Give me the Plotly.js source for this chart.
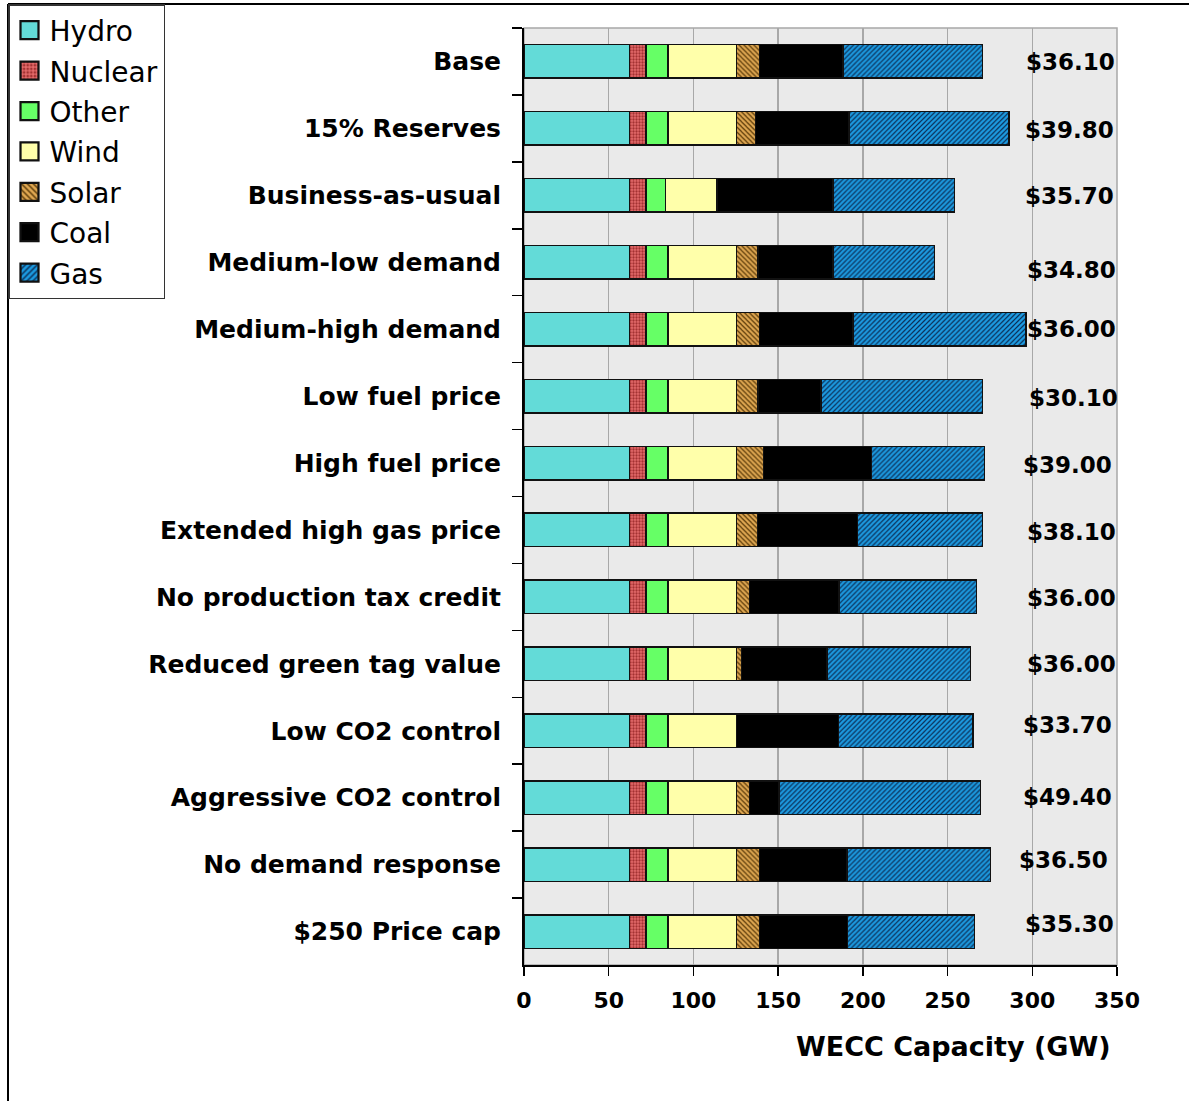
<!DOCTYPE html>
<html><head><meta charset="utf-8">
<script src="https://cdn.plot.ly/plotly-3.0.1.min.js"></script>
<style>
html,body{margin:0;padding:0;background:#fff}
#chart{width:1189px;height:1101px}
.legend .legendpoints path{transform:translate(20px,0px) scale(1.5);}
</style>
</head><body><div id="chart"></div>
<script>
const categories = ['Base','15% Reserves','Business-as-usual','Medium-low demand','Medium-high demand','Low fuel price','High fuel price','Extended high gas price','No production tax credit','Reduced green tag value','Low CO2 control','Aggressive CO2 control','No demand response','$250 Price cap'];
const hydro   = [62.3,62.3,62.3,62.3,62.3,62.3,62.3,62.3,62.3,62.3,62.3,62.3,62.3,62.3];
const nuclear = [9.6,9.6,9.6,9.6,9.6,9.6,9.6,9.6,9.6,9.6,9.6,9.6,9.6,9.6];
const other   = [13.0,13.0,11.6,13.0,13.0,13.0,13.0,13.0,13.0,13.0,13.0,13.0,13.0,13.0];
const wind    = [40.4,40.4,30.5,40.4,40.4,40.4,40.4,40.4,40.4,40.4,40.4,40.4,40.4,40.4];
const solar   = [13.7,11.4,0,12.7,13.7,12.7,16.1,12.5,7.8,3.1,0,7.7,13.7,13.7];
const coal    = [49.2,55.0,68.3,44.5,55.3,37.4,63.6,58.9,52.7,50.4,60.4,17.4,51.6,51.8];
const gas     = [82.5,94.5,71.8,59.8,102.1,95.3,66.8,74.0,81.3,84.8,79.3,119.1,84.8,75.1];
const prices  = ['$36.10','$39.80','$35.70','$34.80','$36.00','$30.10','$39.00','$38.10','$36.00','$36.00','$33.70','$49.40','$36.50','$35.30'];
const tickVals = [0,50,100,150,200,250,300,350];

// small pixel nudges of the price labels, as placed in the original figure
const labelShiftX = [0,-1,-1,1,1,3,-3,1,1,1,-3,-3,-7,-1];
const labelShiftY = [-1,-2,-1,-8,0,-2,-2,-2,-1,0,6,1,5,8];

const FONT = 'DejaVu Sans, Arial, sans-serif';
const series = [
  {name:'Hydro',   values:hydro,   color:'#63DBD8'},
  {name:'Nuclear', values:nuclear, color:'#E46A6A', pattern:{shape:'.', fgcolor:'#A33232', size:3, solidity:0.45}},
  {name:'Other',   values:other,   color:'#66FF66'},
  {name:'Wind',    values:wind,    color:'#FFFFAA'},
  {name:'Solar',   values:solar,   color:'#E0A852', pattern:{shape:'\\', fgcolor:'#5A3A08', size:3.5, solidity:0.35}},
  {name:'Coal',    values:coal,    color:'#000000'},
  {name:'Gas',     values:gas,     color:'#1C9CE2', pattern:{shape:'/', fgcolor:'#0B2D55', size:3.5, solidity:0.35}}
];
const traces = series.map(s => {
  const marker = {color:s.color, line:{color:'#111111', width:1.5}};
  if (s.pattern) marker.pattern = Object.assign({fillmode:'replace', bgcolor:s.color}, s.pattern);
  return {type:'bar', orientation:'h', y:categories, x:s.values, name:s.name,
          legendgroup:s.name, marker:marker, hoverinfo:'skip'};
});

const L = 524, R = 1117, T = 28, B = 965, W = 1189, H = 1101;
const pw = R - L, ph = B - T;
const px = x => (x - L) / pw;
const py = y => (B - y) / ph;

const annotations = categories.map((c, i) => ({
  xref:'x', yref:'y', x:322.5, y:c, text:prices[i], showarrow:false,
  xanchor:'center', yanchor:'middle', xshift:labelShiftX[i], yshift:labelShiftY[i],
  font:{family:FONT, size:23, color:'#000', weight:'bold'}
}));
annotations.push({
  xref:'paper', yref:'paper', x:px(1113), y:py(1046), xanchor:'right', yanchor:'middle',
  text:'WECC Capacity (GW)', showarrow:false,
  font:{family:FONT, size:27, color:'#000', weight:'bold'}
});

const layout = {
  width:W, height:H,
  margin:{l:L, r:W-R, t:T, b:H-B, pad:0, autoexpand:false},
  paper_bgcolor:'#FFFFFF', plot_bgcolor:'#EAEAEA',
  barmode:'stack', bargap:0.5,
  showlegend:true,
  legend:{x:px(8), y:py(4), xanchor:'left', yanchor:'top', bgcolor:'#FFFFFF',
          bordercolor:'#333333', borderwidth:1.5, traceorder:'grouped', tracegroupgap:1,
          font:{family:FONT, size:28, color:'#000'}},
  xaxis:{range:[0,350], tickvals:tickVals, ticktext:tickVals.map(String), showgrid:true, gridcolor:'#A8A8A8', gridwidth:1.5,
         zeroline:false, showline:true, linecolor:'#000', linewidth:2, ticks:'outside', ticklen:9,
         tickwidth:1.5, tickcolor:'#000', tickfont:{family:FONT, size:22, color:'#000', weight:'bold'},
         ticklabelstandoff:6, automargin:false, fixedrange:true},
  yaxis:{type:'category', autorange:'reversed', tickson:'boundaries', ticks:'outside', ticklen:10,
         tickwidth:1.5, tickcolor:'#000', showline:true, linecolor:'#000', linewidth:2, showgrid:false,
         tickfont:{family:FONT, size:25, color:'#000', weight:'bold'}, ticklabelstandoff:16, automargin:false, fixedrange:true},
  shapes:[
    {type:'rect', xref:'paper', yref:'paper', x0:0, x1:1, y0:0, y1:1, line:{color:'#A8A8A8', width:1.5}, layer:'below'},
    {type:'line', xref:'paper', yref:'paper', x0:px(8), x1:px(W), y0:py(4), y1:py(4), line:{color:'#000', width:2}},
    {type:'line', xref:'paper', yref:'paper', x0:px(8), x1:px(8), y0:py(4), y1:py(H), line:{color:'#000', width:2}}
  ],
  annotations:annotations
};

Plotly.newPlot('chart', traces, layout, {displayModeBar:false, staticPlot:true});
</script>
</body></html>
